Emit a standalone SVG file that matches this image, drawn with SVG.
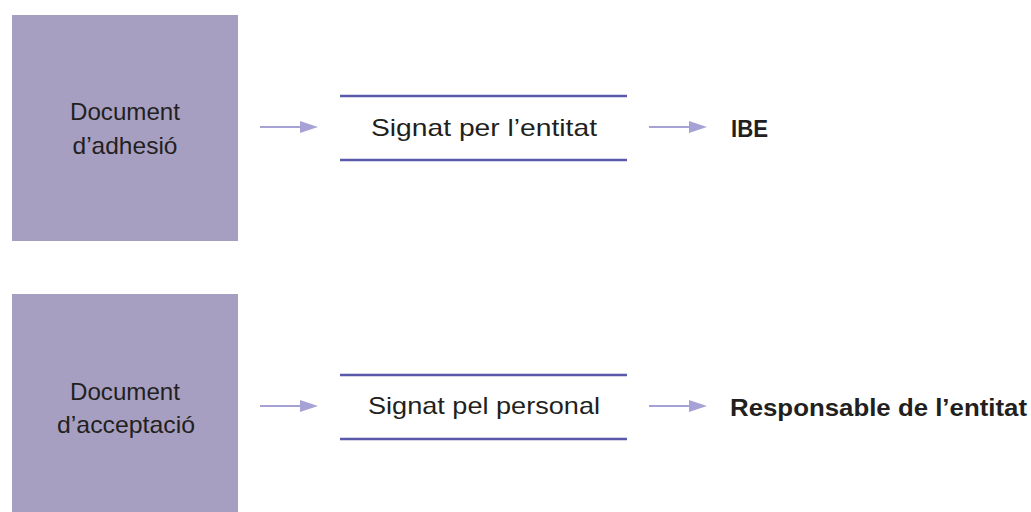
<svg xmlns="http://www.w3.org/2000/svg" width="1031" height="512" viewBox="0 0 1031 512">
<defs>
<style>
.box{fill:#a79fc1}
.t{font-family:"Liberation Sans",Arial,sans-serif;font-size:24px;fill:#231f20}
.b{font-family:"Liberation Sans",Arial,sans-serif;font-size:24.5px;font-weight:bold;fill:#231f20}
.rule{stroke:#5a58a8;stroke-width:2.5}
.arr{stroke:#a7a2d6;stroke-width:2.2;fill:none}
.head{fill:#a7a2d6}
</style>
</defs>
<rect width="1031" height="512" fill="#ffffff"/>
<g id="node-doc-adhesio">
<rect class="box" x="12" y="15" width="226" height="226"/>
<text class="t" x="125" y="120" text-anchor="middle" textLength="110" lengthAdjust="spacingAndGlyphs">Document</text>
<text class="t" x="125" y="154" text-anchor="middle" textLength="105" lengthAdjust="spacingAndGlyphs">d’adhesió</text>
</g>
<g id="node-signat-entitat">
<line class="rule" x1="340" y1="96" x2="627" y2="96"/>
<line class="rule" x1="340" y1="160" x2="627" y2="160"/>
<text class="t" x="484" y="136" text-anchor="middle" textLength="226" lengthAdjust="spacingAndGlyphs">Signat per l’entitat</text>
</g>
<g id="node-ibe">
<text class="b" x="731" y="137" textLength="37" lengthAdjust="spacingAndGlyphs">IBE</text>
</g>
<g id="node-doc-acceptacio">
<rect class="box" x="12" y="294" width="226" height="226"/>
<text class="t" x="125" y="400" text-anchor="middle" textLength="110" lengthAdjust="spacingAndGlyphs">Document</text>
<text class="t" x="126" y="433" text-anchor="middle" textLength="138" lengthAdjust="spacingAndGlyphs">d’acceptació</text>
</g>
<g id="node-signat-personal">
<line class="rule" x1="340" y1="375" x2="627" y2="375"/>
<line class="rule" x1="340" y1="439" x2="627" y2="439"/>
<text class="t" x="484" y="414" text-anchor="middle" textLength="232" lengthAdjust="spacingAndGlyphs">Signat pel personal</text>
</g>
<g id="node-responsable">
<text class="b" x="730" y="416" textLength="297" lengthAdjust="spacingAndGlyphs">Responsable de l’entitat</text>
</g>
<g id="connectors">
<line class="arr" x1="260" y1="127" x2="302" y2="127"/>
<polygon class="head" points="300,121 318,127 300,133"/>
<line class="arr" x1="649" y1="127" x2="691" y2="127"/>
<polygon class="head" points="689,121 707,127 689,133"/>
<line class="arr" x1="260" y1="406" x2="302" y2="406"/>
<polygon class="head" points="300,400 318,406 300,412"/>
<line class="arr" x1="649" y1="406" x2="691" y2="406"/>
<polygon class="head" points="689,400 707,406 689,412"/>
</g>
</svg>
